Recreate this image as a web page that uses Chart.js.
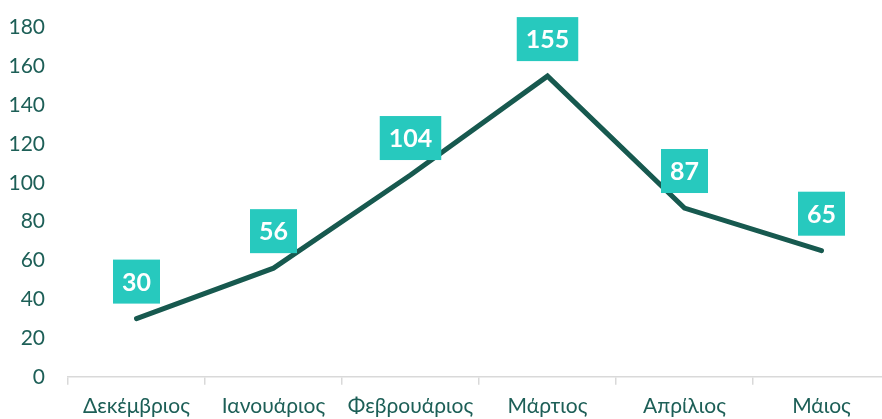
<!DOCTYPE html>
<html><head><meta charset="utf-8">
<script src="https://cdn.jsdelivr.net/npm/chart.js@4"></script>
<style>
html,body{margin:0;padding:0;background:#fff;overflow:hidden;}
#wrap{width:882px;height:419px;overflow:hidden;}
</style></head>
<body><div id="wrap"><canvas id="c" width="892" height="428"></canvas></div>
<script>
const categories = ["Δεκέμβριος","Ιανουάριος","Φεβρουάριος","Μάρτιος","Απρίλιος","Μάιος"];
const values = [30, 56, 104, 155, 87, 65];
const yTicks = [0,20,40,60,80,100,120,140,160,180];

const textColor = '#1d5f57';
const lineColor = '#17594f';
const boxColor = '#27c9be';
const fontFam = 'Lato, "Open Sans", sans-serif';

const labelPlugin = {
  id: 'boxLabels',
  afterDatasetsDraw(chart) {
    const ctx = chart.ctx;
    const meta = chart.getDatasetMeta(0);
    ctx.save();
    ctx.font = 'bold 25px ' + fontFam;
    ctx.textAlign = 'center';
    ctx.textBaseline = 'middle';
    meta.data.forEach((pt, i) => {
      const txt = String(values[i]);
      const w = ctx.measureText(txt).width + 18;
      const h = 44;
      const cx = pt.x, cy = pt.y - 37;
      ctx.fillStyle = boxColor;
      ctx.fillRect(cx - w/2, cy - h/2, w, h);
      ctx.fillStyle = '#ffffff';
      ctx.fillText(txt, cx, cy + 1);
    });
    ctx.restore();
  }
};

new Chart(document.getElementById('c'), {
  type: 'line',
  data: {
    labels: categories,
    datasets: [{
      data: values,
      borderColor: lineColor,
      borderWidth: 5,
      borderCapStyle: 'round',
      borderJoinStyle: 'miter',
      pointRadius: 0,
      tension: 0,
      fill: false
    }]
  },
  options: {
    responsive: false,
    animation: false,
    layout: { padding: { top: 0, right: 2, left: 0, bottom: 0 } },
    plugins: { legend: { display: false }, tooltip: { enabled: false } },
    scales: {
      x: {
        offset: true,
        grid: { display: true, offset: true, drawOnChartArea: false, tickLength: 8, color: '#d9d9d9', lineWidth: 1.5 },
        border: { display: true, color: '#d9d9d9', width: 1.5 },
        ticks: { color: textColor, font: { family: fontFam, size: 21 }, padding: 9, maxRotation: 0, autoSkip: false }
      },
      y: {
        min: 0, max: 180,
        afterBuildTicks: s => { s.ticks = yTicks.map(v => ({ value: v })); },
        afterFit: s => { s.width = 68; },
        grid: { display: false },
        border: { display: false },
        ticks: { color: textColor, font: { family: fontFam, size: 21 }, padding: 15 }
      }
    }
  },
  plugins: [labelPlugin]
});
</script>
</body></html>
